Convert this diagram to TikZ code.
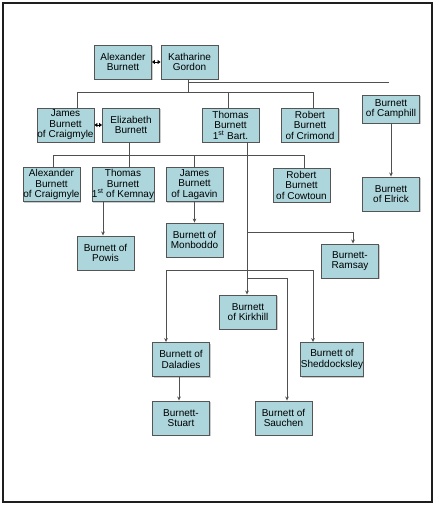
\documentclass[tikz,border=0pt]{standalone}
\usepackage{fontspec}
\setmainfont{Liberation Sans}
\usetikzlibrary{arrows.meta,shadows}
\definecolor{boxfill}{RGB}{172,214,220}
\definecolor{boxdraw}{RGB}{85,85,85}
\definecolor{linecol}{RGB}{80,80,80}
\begin{document}
\begin{tikzpicture}[x=1pt,y=-1pt,
  box/.style={draw=boxdraw,line width=0.9pt,fill=boxfill,minimum width=57pt,minimum height=34pt,
    inner sep=0pt,align=center,font=\fontsize{10}{10.5}\selectfont,
    drop shadow={shadow xshift=1.2pt,shadow yshift=-1.2pt,fill=black,opacity=0.2}},
  conn/.style={draw=linecol,line width=0.8pt},
  arr/.style={conn,-{Stealth[length=4pt,width=3.6pt]}},
  marr/.style={draw=black,line width=1pt,{Stealth[length=3pt,width=4pt,inset=0pt]}-{Stealth[length=3pt,width=4pt,inset=0pt]}},
  frame/.style={draw={rgb,255:red,30;green,30;blue,30},line width=2.4pt}]
\useasboundingbox (0,0) rectangle (436,506);
\draw[frame] (3,3) rectangle (432,502);

% nodes
\node[box] (alex) at (123,62) {Alexander\\Burnett};
\node[box] (kath) at (189.5,62) {Katharine\\Gordon};
\node[box] (james) at (65.5,125) {James\\Burnett\\of Craigmyle};
\node[box] (eliz) at (131,125) {Elizabeth\\Burnett};
\node[box] (thomas) at (230.5,125) {Thomas\\Burnett\\1\textsuperscript{st} Bart.};
\node[box] (robert1) at (310,125) {Robert\\Burnett\\of Crimond};
\node[box,minimum height=28pt] (camphill) at (391,109) {Burnett\\of Camphill};
\node[box] (alex2) at (51.5,184.5) {Alexander\\Burnett\\of Craigmyle};
\node[box] (thomas2) at (123,184.5) {Thomas\\Burnett\\1\textsuperscript{st} of Kemnay};
\node[box] (jamesL) at (194.5,184.5) {James\\Burnett\\of Lagavin};
\node[box] (robert2) at (301.5,185) {Robert\\Burnett\\of Cowtoun};
\node[box] (elrick) at (391,194) {Burnett\\of Elrick};
\node[box] (powis) at (105.5,253) {Burnett of\\Powis};
\node[box] (monboddo) at (194.5,240) {Burnett of\\Monboddo};
\node[box] (ramsay) at (350,261) {Burnett-\\Ramsay};
\node[box] (kirkhill) at (248,312) {Burnett\\of Kirkhill};
\node[box] (daladies) at (181,359.5) {Burnett of\\Daladies};
\node[box] (shedd) at (332,359.5) {Burnett of\\Sheddocksley};
\node[box] (stuart) at (181,418) {Burnett-\\Stuart};
\node[box] (sauchen) at (283.5,418) {Burnett of\\Sauchen};

% helper coordinates
\coordinate (b0) at (188,82);
\coordinate (b0R) at (389,82);
\coordinate (b1L) at (77,92);
\coordinate (b1M) at (228,92);
\coordinate (b1R) at (313,92);
\coordinate (b2L) at (53,155);
\coordinate (b2E) at (129,155);
\coordinate (b2R) at (304,155);
\coordinate (tr) at (247,142);
\coordinate (r1) at (247,232);
\coordinate (r2) at (353,232);
\coordinate (d1) at (166,270);
\coordinate (s1) at (313,270);
\coordinate (sa) at (247,278);
\coordinate (sx) at (287,278);
\coordinate (dx) at (179,0);
\coordinate (px) at (103,0);

% marriages
\draw[marr] (alex.east) -- (kath.west);
\draw[marr] (james.east) -- (eliz.west);

% first generation
\draw[conn] (kath.south -| b0) -- (b0 |- b1L);
\draw[conn] (b0) -- (b0R);
\draw[conn] (james.north -| b1L) -- (b1L) -- (b1R) -- (robert1.north -| b1R);
\draw[conn] (b1M) -- (thomas.north -| b1M);

% second generation
\draw[conn] (eliz.south -| b2E) -- (b2E);
\draw[conn] (alex2.north -| b2L) -- (b2L) -- (b2R) -- (robert2.north -| b2R);
\draw[conn] (b2E) -- (thomas2.north -| b2E);
\draw[conn] (jamesL.north) -- (jamesL.north |- b2L);

\draw[arr] (camphill.south) -- (elrick.north);
\draw[arr] (thomas2.south -| px) -- (powis.north -| px);
\draw[arr] (jamesL.south) -- (monboddo.north);

% Thomas 1st Bart. descendants
\draw[arr] (thomas.south -| tr) -- (kirkhill.north -| tr);
\draw[arr] (r1) -- (r2) -- (ramsay.north -| r2);
\draw[conn] (d1) -- (s1);
\draw[arr] (d1) -- (daladies.north -| d1);
\draw[arr] (s1) -- (shedd.north -| s1);
\draw[arr] (sa) -- (sx) -- (sauchen.north -| sx);
\draw[arr] (daladies.south -| dx) -- (stuart.north -| dx);
\end{tikzpicture}
\end{document}
